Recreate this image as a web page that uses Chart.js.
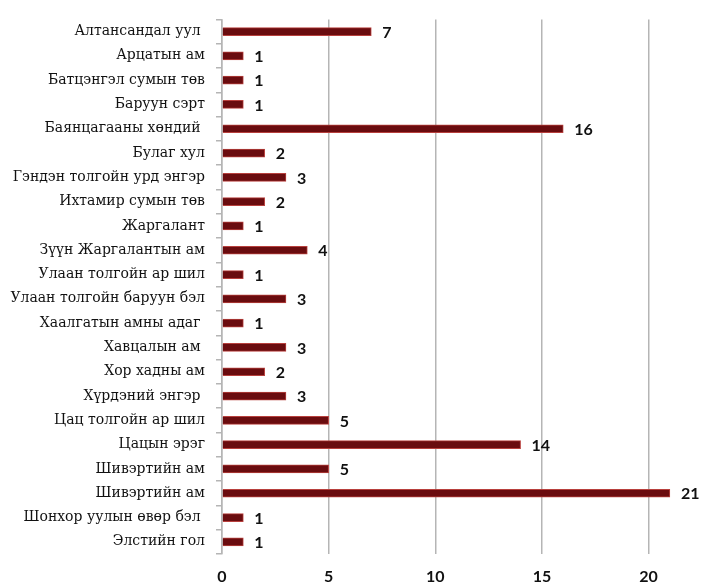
<!DOCTYPE html>
<html>
<head>
<meta charset="utf-8">
<script src="https://cdn.jsdelivr.net/npm/chart.js@4"></script>
<style>
  html, body { margin: 0; padding: 0; background: #fff; }
  #wrap { width: 704px; height: 583px; }
</style>
</head>
<body>
<div id="wrap"><canvas id="bar-chart"></canvas></div>
<script>
// places (top to bottom) and counts
var places = [
  "Алтансандал уул ", "Арцатын ам", "Батцэнгэл сумын төв", "Баруун сэрт",
  "Баянцагааны хөндий ", "Булаг хул", "Гэндэн толгойн урд энгэр",
  "Ихтамир сумын төв", "Жаргалант", "Зүүн Жаргалантын ам",
  "Улаан толгойн ар шил", "Улаан толгойн баруун бэл", "Хаалгатын амны адаг ",
  "Хавцалын ам ", "Хор хадны ам", "Хүрдэний энгэр ", "Цац толгойн ар шил",
  "Цацын эрэг", "Шивэртийн ам", "Шивэртийн ам", "Шонхор уулын өвөр бэл ",
  "Элстийн гол"
];
var counts = [7, 1, 1, 1, 16, 2, 3, 2, 1, 4, 1, 3, 1, 3, 2, 3, 5, 14, 5, 21, 1, 1];
var xTicks = [0, 5, 10, 15, 20];

// draws the number next to each bar
var valueLabels = {
  id: 'valueLabels',
  afterDatasetsDraw: function(chart) {
    var ctx = chart.ctx;
    var meta = chart.getDatasetMeta(0);
    ctx.save();
    ctx.font = "bold 16px Lato";
    ctx.fillStyle = "#111";
    ctx.textAlign = "left";
    ctx.textBaseline = "middle";
    meta.data.forEach(function(bar, i) {
      ctx.fillText(String(counts[i]), bar.x + 11, bar.y + 1);
    });
    ctx.restore();
  }
};

var dataPlot = new Chart(document.getElementById("bar-chart"), {
  type: 'bar',
  data: {
    labels: places,
    datasets: [{
      data: counts,
      backgroundColor: "#6a0c0f",
      borderColor: "#b8403d",
      borderWidth: 1,
      barThickness: 8
    }]
  },
  options: {
    indexAxis: 'y',
    responsive: true,
    maintainAspectRatio: false,
    animation: false,
    layout: { padding: { top: 16, right: 0, left: 0, bottom: 0 } },
    plugins: {
      legend: { display: false },
      tooltip: { enabled: false }
    },
    scales: {
      x: {
        min: 0,
        max: 22.6,
        afterBuildTicks: function(scale) {
          scale.ticks = xTicks.map(function(v) { return { value: v }; });
        },
        afterFit: function(scale) { scale.height = 29; },
        grid: {
          color: "#b5b5b5",
          lineWidth: 1.5,
          drawTicks: false
        },
        border: { display: false },
        ticks: {
          padding: 13,
          color: "#111",
          font: { family: "Lato", size: 16, weight: "bold" }
        }
      },
      y: {
        afterFit: function(scale) { scale.width = 222; },
        grid: {
          drawOnChartArea: false,
          drawTicks: true,
          tickLength: 6,
          color: "#b5b5b5",
          lineWidth: 1.5
        },
        border: { color: "#b5b5b5", width: 1.5 },
        ticks: {
          autoSkip: false,
          padding: 11,
          color: "#111",
          font: { family: "DejaVu Serif", size: 14 }
        }
      }
    }
  },
  plugins: [valueLabels]
});
</script>
</body>
</html>
